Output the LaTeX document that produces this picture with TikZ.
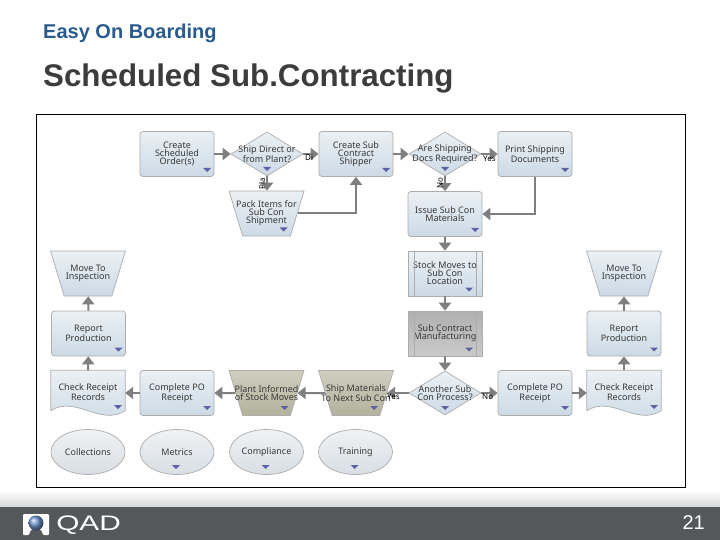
\documentclass[tikz,border=0pt]{standalone}
\usepackage{fontspec}
\setmainfont{Liberation Sans}
\newfontfamily\flowfont{Noto Sans}
\usetikzlibrary{arrows.meta,shapes.geometric,calc}
\newcommand{\ph}{\phantom{\rule{2pt}{2pt}}}
\tikzset{
  flowtxt/.style={font=\flowfont\fontsize{9}{8}\selectfont,text=black!78,align=center,inner sep=0pt},
  flowbase/.style={draw=black!32,line width=0.7pt,inner sep=0pt,top color=blue0,bottom color=blue1},
  rbox/.style={flowbase,rectangle,rounded corners=3pt,minimum width=74pt,minimum height=45pt},
  subbox/.style={flowbase,rectangle,minimum width=74pt,minimum height=45pt},
  grayfill/.style={top color=gray0,bottom color=gray1},
  diam/.style={flowbase,diamond,aspect=1.6,minimum width=72pt,minimum height=44pt},
  trap/.style={flowbase,trapezium,trapezium stretches=true,trapezium left angle=74,trapezium right angle=74,shape border rotate=180,minimum width=75pt,minimum height=45pt},
  olivefill/.style={top color=olive0,bottom color=olive1},
  oval/.style={flowbase,ellipse,minimum width=74pt,minimum height=45pt,top color=oval0,bottom color=oval1},
  docbox/.style={rectangle,minimum width=74pt,minimum height=45pt,inner sep=0pt},
  mk/.style={fill=marker},
  conn/.style={draw=conngray,line width=2pt,-{Triangle[length=8pt,width=12pt]}},
  edgelab/.style={font=\flowfont\fontsize{8}{8}\selectfont,text=black,inner sep=0pt},
}
\definecolor{blue0}{HTML}{EBF0F4}
\definecolor{blue1}{HTML}{CCDAE6}
\definecolor{gray0}{HTML}{B0B0B0}
\definecolor{gray1}{HTML}{CACACA}
\definecolor{olive0}{HTML}{CFCEBF}
\definecolor{olive1}{HTML}{B3B29C}
\definecolor{oval0}{HTML}{F0F2F4}
\definecolor{oval1}{HTML}{D8DEE4}
\definecolor{marker}{HTML}{5D62A6}
\definecolor{conngray}{HTML}{7F7F7F}
\definecolor{titleblue}{HTML}{2A5B8E}
\definecolor{titlegray}{HTML}{3C3C3C}
\definecolor{barcol}{HTML}{55585A}
\definecolor{logoball}{HTML}{6F9AD0}
\newcommand{\mrk}[3]{\fill[mk] ([shift={(#2-4,#3-2)}]#1.center) -- ++(8,0) -- ++(-4,4) -- cycle;}
\newcommand{\docshape}[1]{%
  \path[draw=black!32,line width=0.7pt,top color=blue0,bottom color=blue1]
   (#1.north west) -- (#1.north east) -- ([yshift=5pt]#1.south east)
   .. controls ([shift={(-25pt,-11pt)}]#1.south east) and ([shift={(-50pt,21pt)}]#1.south east) .. ([yshift=5pt]#1.south west) -- cycle;}
\begin{document}
\begin{tikzpicture}[x=1pt,y=-1pt]
\useasboundingbox (0,0) rectangle (720,540);
\fill[white] (0,0) rectangle (720,540);
\shade[top color=white,bottom color=black!14] (0,490) rectangle (720,506);
\fill[barcol] (0,507) rectangle (720,540);
\node[anchor=west,inner sep=0pt,font=\bfseries\fontsize{20}{20}\selectfont,text=titleblue] (topic) at (43,33.5) {Easy On Boarding};
\node[anchor=west,inner sep=0pt,font=\bfseries\fontsize{31.3}{32}\selectfont,text=titlegray] (title) at (43,78.5) {Scheduled Sub.Contracting};
\draw[black,line width=1pt,fill=white] (36.5,114.5) rectangle (685,487);
% row 1
\node[rbox,label={[flowtxt]center:Create\\Scheduled\\Order(s)}] (a1) at (177,154) {};
\node[diam,label={[flowtxt]center:Ship Direct or\\from Plant?}] (a2) at (267,154) {};
\node[rbox,label={[flowtxt]center:Create Sub\\Contract\\Shipper}] (a3) at (356,154) {};
\node[diam,label={[flowtxt]center:Are Shipping\\Docs Required?}] (a4) at (445,154) {};
\node[rbox,label={[flowtxt]center:Print Shipping\\Documents}] (a5) at (535,154) {};
\node[trap,label={[flowtxt]center:Pack Items for\\Sub Con\\Shipment}] (pack) at (266.5,213.5) {\ph};
% centre column
\node[rbox,label={[flowtxt]center:Issue Sub Con\\Materials}] (issue) at (445,214) {};
\node[subbox,label={[flowtxt]center:Stock Moves to\\Sub Con\\Location}] (stock) at (445,273.5) {};
\node[subbox,grayfill,label={[flowtxt]center:Sub Contract\\Manufacturing}] (manuf) at (445,333.5) {};
% left column
\node[trap,label={[flowtxt]center:Move To\\Inspection}] (lmove) at (88,273.5) {\ph};
\node[rbox,label={[flowtxt]center:Report\\Production}] (lrep) at (88.5,333.5) {};
\node[docbox] (lchk) at (88,393) {};
\docshape{lchk}
\node[flowtxt] (lchkt) at (88,392) {Check Receipt\\Records};
\node[rbox,label={[flowtxt]center:Complete PO\\Receipt}] (lpo) at (177,393) {};
\node[trap,olivefill,label={[flowtxt]center:Plant Informed\\of Stock Moves}] (plant) at (266.5,393) {\ph};
\node[trap,olivefill,label={[flowtxt]center:Ship Materials\\To Next Sub Con}] (ship) at (356,393) {\ph};
\node[diam,label={[flowtxt]center:Another Sub\\Con Process?}] (other) at (445,393) {};
\node[rbox,label={[flowtxt]center:Complete PO\\Receipt}] (rpo) at (535,393) {};
% right column
\node[docbox] (rchk) at (624,393) {};
\docshape{rchk}
\node[flowtxt] (rchkt) at (624,392) {Check Receipt\\Records};
\node[rbox,label={[flowtxt]center:Report\\Production}] (rrep) at (624,333.5) {};
\node[trap,label={[flowtxt]center:Move To\\Inspection}] (rmove) at (624,273.5) {\ph};
% ovals
\node[oval,label={[flowtxt]center:Collections}] (o1) at (88,452) {};
\node[oval,label={[flowtxt]center:Metrics}] (o2) at (177,452) {};
\node[oval,label={[flowtxt]center:Compliance}] (o3) at (266.5,452) {};
\node[oval,label={[flowtxt]center:Training}] (o4) at (355.5,452) {};
% sub-process bars
\draw[black!32,line width=0.7pt] (414.5,251) -- (414.5,296) (476,251) -- (476,296) (414.5,311) -- (414.5,356) (476,311) -- (476,356);
% markers
\mrk{a1}{30}{16}\mrk{a2}{0}{15}\mrk{a3}{30}{16}\mrk{a4}{0}{15}\mrk{a5}{30}{16}
\mrk{pack}{17}{16}\mrk{issue}{30}{16}\mrk{stock}{24}{16}\mrk{manuf}{24}{16}
\mrk{lrep}{30}{16}\mrk{lchk}{30}{14}\mrk{lpo}{30}{15}\mrk{plant}{18}{15}\mrk{ship}{18}{15}\mrk{other}{0}{15}\mrk{rpo}{30}{15}
\mrk{rchk}{30}{14}\mrk{rrep}{30}{16}\mrk{o2}{-1}{15}\mrk{o3}{-1}{15}\mrk{o4}{-1}{15}
% connectors
\draw[conn] (a1) -- (a2);
\draw[conn] (a2) -- (a3);
\draw[conn] (a3) -- (a4);
\draw[conn] (a4) -- (a5);
\draw[conn] (a2) -- (a2 |- pack.north);
\draw[conn] (a4) -- (issue);
\draw[conn] (pack) -| (a3);
\draw[conn] (a5) |- (issue);
\draw[conn] (issue) -- (stock);
\draw[conn] (stock) -- (manuf);
\draw[conn] (manuf) -- (other);
\draw[conn] (other) -- (rpo);
\draw[conn] (rpo) -- (rchk);
\draw[conn] (rchk) -- (rrep);
\draw[conn] (rrep) -- (rmove);
\draw[conn] (other) -- (ship);
\draw[conn] (ship) -- (plant);
\draw[conn] (plant) -- (lpo);
\draw[conn] (lpo) -- (lchk);
\draw[conn] (lchk) -- (lrep);
\draw[conn] (lrep) -- (lmove);
% connector labels
\node[edgelab,anchor=west] (l1) at (305,158) {Di};
\node[edgelab,rotate=90,anchor=center] (l2) at (262,184) {Pla};
\node[edgelab,rotate=90,anchor=center] (l3) at (440,183) {No};
\node[edgelab,anchor=west] (l4) at (483,158.5) {Yes};
\node[edgelab,anchor=west] (l5) at (387,397) {Yes};
\node[edgelab,anchor=west] (l6) at (482,397) {No};
% logo
\fill[white,rounded corners=1pt] (23,514) -- (49,514) -- (49,535) -- (43,535) .. controls (41,526) and (31,526) .. (29,535) -- (23,535) -- cycle;
\shade[ball color=logoball] (36,523) circle (7.5);
\node[anchor=west,inner sep=0pt,text=white,font=\fontsize{21}{21}\selectfont,xscale=1.42] (qad) at (56,525) {QAD};
\node[anchor=east,inner sep=0pt,text=white,font=\fontsize{20}{20}\selectfont] (pg) at (705,523) {21};
\end{tikzpicture}
\end{document}
